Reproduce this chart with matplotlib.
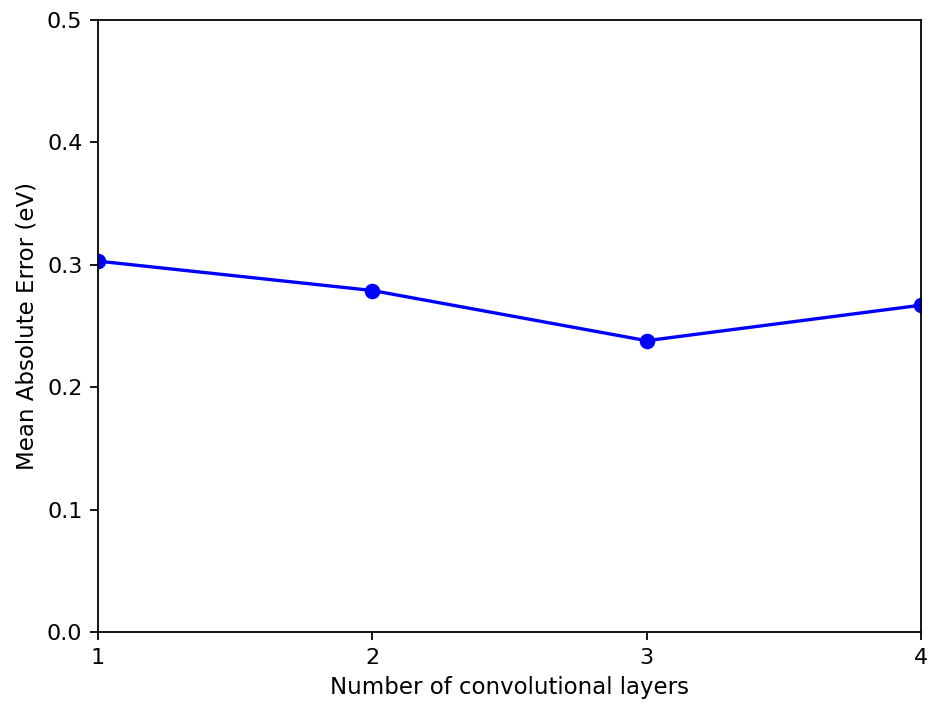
import matplotlib
matplotlib.use("Agg")
import matplotlib.pyplot as plt

layers = [1, 2, 3, 4]
mae = [0.303, 0.279, 0.238, 0.267]

DPI = 160
fig = plt.figure(figsize=(932 / DPI, 706 / DPI), dpi=DPI)
ax = fig.add_axes([98 / 932, 1 - 632 / 706, (921 - 98) / 932, (632 - 20) / 706])

ax.plot(layers, mae, "o-", color="blue")
ax.set_xlim(1, 4)
ax.set_ylim(0, 0.5)
ax.set_xticks(layers)
ax.set_xlabel("Number of convolutional layers", fontsize=10.3)
ax.set_ylabel("Mean Absolute Error (eV)", fontsize=10.3)

fig.savefig("out.png", dpi=DPI)
